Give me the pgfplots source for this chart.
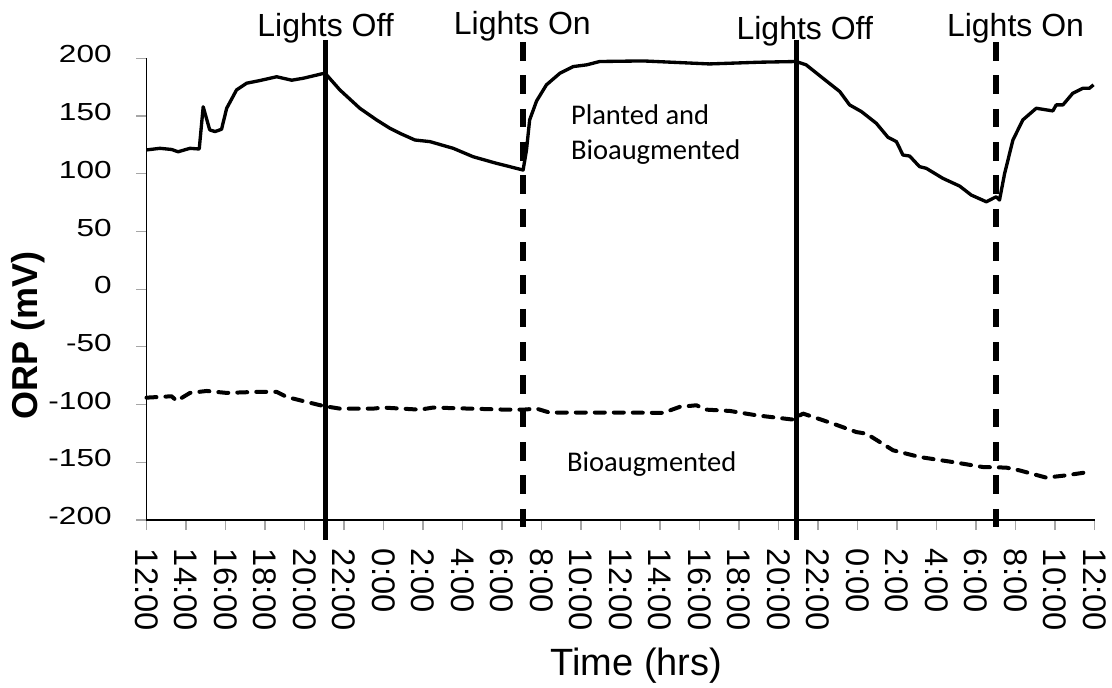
\documentclass[border=0pt]{standalone}
\usepackage{fontspec}
\setmainfont{Liberation Sans}
\newfontfamily\calibri{Carlito}
\usepackage{graphicx}
\usepackage{pgfplots}
\pgfplotsset{compat=1.18}
\newcommand\sx[1]{\scalebox{1.28}[1]{#1}}
\begin{document}
\begin{tikzpicture}
\begin{axis}[
  at={(0,0)}, anchor=south west,
  scale only axis,
  width=711pt, height=346.3pt,
  xmin=0, xmax=48, ymin=-200, ymax=200,
  axis lines=left,
  axis line style={-, line width=0.9pt, black},
  xtick={0,2,...,48},
  xticklabels={12:00,14:00,16:00,18:00,20:00,22:00,0:00,2:00,4:00,6:00,8:00,10:00,12:00,14:00,16:00,18:00,20:00,22:00,0:00,2:00,4:00,6:00,8:00,10:00,12:00},
  ytick={-200,-150,-100,-50,0,50,100,150,200},
  yticklabels={},
  tick align=outside,
  major tick length=7.5pt,
  tick style={line width=0.8pt, color=gray!70},
  xticklabel style={yshift=-14pt, rotate=-90, anchor=west, font=\fontsize{24.5}{24.5}\selectfont, inner sep=0pt},
  clip=false,
]
\addplot[black, line width=2.5pt, line join=round] coordinates {
(0,120.6) (0.68,122) (1.27,121) (1.6,119) (2.2,122) (2.67,121.4) (2.87,158) (3.2,138) (3.47,136.5) (3.8,138.5)
(4.06,156.7) (4.56,172.6) (5.07,178.4) (5.74,180.7) (6.59,184) (7.35,181) (7.94,182.7) (8.87,186.5) (9.05,187)
(9.12,185.6) (9.79,172.6) (10.8,156.7) (11.65,146.6) (12.32,139.4) (12.83,135) (13.59,129.2) (14.35,127.8)
(15.53,122) (16.54,114.7) (17.72,109) (19.07,103.2) (19.24,120.6) (19.4,146.6) (19.75,163) (20.25,177)
(20.93,187) (21.6,192.8) (22.28,194.3) (22.95,197.2) (25.14,197.7) (28.5,195.1) (31.05,196.6) (32.9,197.2)
(33.4,194.3) (34.25,182.7) (35.1,171.2) (35.6,159.6) (36.2,153.8) (36.95,143.7) (37.54,131.6) (37.97,127.8)
(38.3,116.2) (38.64,115.3) (39.14,106.1) (39.48,104.7) (40.32,96) (41.17,89.3) (41.76,81.5) (42.52,75.7)
(43.02,80) (43.19,77.2) (43.45,100.3) (43.87,129.2) (44.37,146.6) (45.05,156.7) (45.89,154.4) (46.06,159.6)
(46.4,159.6) (46.9,169.7) (47.41,174) (47.74,174) (47.95,177)
};
\addplot[black, line width=3pt, line cap=round, line join=round, dash pattern=on 7.5pt off 6.75pt] coordinates {
(0,-94) (1.27,-92.8) (1.53,-96.8) (2.2,-89.9) (3.05,-88.2) (4.06,-89.9) (5.58,-89) (6.59,-89) (7.1,-93.4)
(8.1,-97.7) (8.95,-101.2) (9.79,-103.5) (11.48,-103.5) (11.98,-102.6) (13.84,-104.4) (14.51,-102.6)
(18.23,-104.4) (19.07,-104.4) (19.75,-103.5) (20.4,-106.9) (23.96,-106.9) (26.15,-107.2) (27,-102)
(27.84,-100.6) (28.35,-104.4) (29.53,-105.5) (30.88,-109.3) (32.73,-113) (33.24,-107.8) (34.76,-116.5)
(35.94,-123.8) (36.45,-125.2) (37.8,-139.6) (39.14,-145.4) (40.83,-149.8) (42.35,-154.1) (43.53,-154.6)
(44.2,-157) (45.56,-163.3) (46.57,-161.3) (47.66,-158.5)
};
\draw[line width=4pt] (axis cs:9.05,216) -- (axis cs:9.05,-217);
\draw[line width=4pt] (axis cs:32.92,216) -- (axis cs:32.92,-217);
\draw[line width=4pt, dash pattern=on 14pt off 11pt] (axis cs:19.07,214) -- (axis cs:19.07,-217);
\draw[line width=4pt, dash pattern=on 14pt off 11pt] (axis cs:43.02,214) -- (axis cs:43.02,-217);
\begin{scope}[every node/.style={anchor=east, inner sep=0pt, font=\fontsize{18.5}{20}\selectfont}]
\node at (axis cs:-1.75,203.3) {\sx{200}};
\node at (axis cs:-1.75,153.3) {\sx{150}};
\node at (axis cs:-1.75,103.3) {\sx{100}};
\node at (axis cs:-1.75,53.3) {\sx{50}};
\node at (axis cs:-1.75,3.3) {\sx{0}};
\node at (axis cs:-1.75,-46.7) {\sx{-50}};
\node at (axis cs:-1.75,-96.7) {\sx{-100}};
\node at (axis cs:-1.75,-146.7) {\sx{-150}};
\node at (axis cs:-1.75,-196.7) {\sx{-200}};
\end{scope}
\node[font=\fontsize{24}{24}\selectfont, anchor=base] at (axis cs:9.07,218.8) {Lights Off};
\node[font=\fontsize{24}{24}\selectfont, anchor=base] at (axis cs:19.03,220.3) {Lights On};
\node[font=\fontsize{24}{24}\selectfont, anchor=base] at (axis cs:33.33,216) {Lights Off};
\node[font=\fontsize{24}{24}\selectfont, anchor=base] at (axis cs:44.0,218.6) {Lights On};
\node[anchor=base west, inner sep=0pt, font=\calibri\fontsize{21.4}{26}\selectfont] at (axis cs:21.48,142.2) {Planted and};
\node[anchor=base west, inner sep=0pt, font=\calibri\fontsize{21.4}{26}\selectfont] at (axis cs:21.48,111.9) {Bioaugmented};
\node[anchor=base west, inner sep=0pt, font=\calibri\fontsize{21.4}{26}\selectfont] at (axis cs:21.28,-158.4) {Bioaugmented};
\node[rotate=90, font=\bfseries\fontsize{27}{27}\selectfont] at (axis cs:-5.97,-40) {ORP (mV)};
\node[font=\fontsize{28.5}{28.5}\selectfont] at (axis cs:24.8,-326) {Time (hrs)};
\end{axis}
\pgfresetboundingbox
\path[use as bounding box] (-109.875pt,-125.25pt) rectangle (724.125pt,390pt);
\end{tikzpicture}
\end{document}
